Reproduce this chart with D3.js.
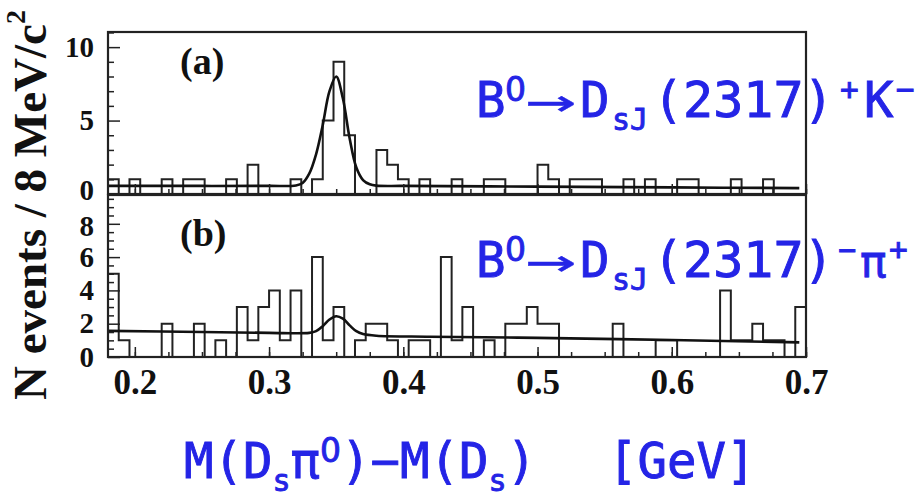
<!DOCTYPE html>
<html>
<head>
<meta charset="utf-8">
<script src="https://cdn.jsdelivr.net/npm/d3@7"></script>
<style>
  html, body { margin: 0; padding: 0; background: #fff; }
  svg { display: block; }
</style>
</head>
<body>
<svg id="chart" width="922" height="497"></svg>
<script>
// ---------------- data ----------------
const xDomain = [0.18, 0.70];
const binWidth = 0.008; // 8 MeV bins
const countsA = [1,0,1,0,0,1,0,1,1,0, 0,1,0,2,0,0,0,1,0,1, 5,9,4,0,0,3,2,1,0,1,
                 0,0,1,0,0,1,1,0,0,0, 2,1,0,1,1,1,0,0,1,0, 1,0,0,1,1,0,0,0,1,0, 0,1,0,0,0];
const countsB = [5,1,0,0,0,2,0,0,2,0, 1,0,3,1,3,4,1,4,0,6, 1,3,0,1,2,2,1,0,1,1,
                 0,6,1,3,0,1,0,2,2,3, 2,2,0,0,0,0,0,2,0,0, 0,1,1,0,0,0,0,4,1,1, 2,1,1,0,3];
// fit curves
const fitAx = [0.18, 0.25, 0.30, 0.32, 0.325, 0.33, 0.335, 0.34, 0.345, 0.35, 0.355, 0.36, 0.365, 0.37, 0.375, 0.38, 0.40, 0.50, 0.60, 0.695];
const fitAy = [0.55, 0.55, 0.55, 0.58, 0.75, 1.4, 2.7, 4.7, 7.0, 8.0, 6.5, 3.8, 1.8, 0.95, 0.66, 0.57, 0.55, 0.50, 0.45, 0.40];
const fitBx = [0.18, 0.25, 0.30, 0.33, 0.335, 0.34, 0.345, 0.35, 0.355, 0.36, 0.365, 0.37, 0.38, 0.42, 0.50, 0.60, 0.695];
const fitBy = [1.57, 1.50, 1.45, 1.45, 1.55, 1.85, 2.25, 2.45, 2.30, 1.90, 1.55, 1.38, 1.28, 1.22, 1.15, 1.02, 0.88];
const xTicksMajor = [0.2, 0.3, 0.4, 0.5, 0.6, 0.7];
const yTicksA = [0, 5, 10];
const yTicksB = [0, 2, 4, 6, 8];
const yDomainA = [0, 11.03];
const yDomainB = [0, 9.73];

// ---------------- layout ----------------
const svg = d3.select("#chart");
const L = 108, R = 806;
const panelA = {top: 32, bottom: 194};
const panelB = {top: 195, bottom: 357};
const ink = "#222";
const blue = "#2424e6";
const serif = "'Liberation Serif', 'Times New Roman', serif";
const mono = "'DejaVu Sans Mono', monospace";
const sans = "'DejaVu Sans', sans-serif";

const x = d3.scaleLinear().domain(xDomain).range([L, R]);
const yA = d3.scaleLinear().domain(yDomainA).range([panelA.bottom, panelA.top]);
const yB = d3.scaleLinear().domain(yDomainB).range([panelB.bottom, panelB.top]);

const xMinor = d3.range(0.2, 0.7001, 0.025).map(v => +v.toFixed(3));

function stepPoints(counts) {
  const pts = [[xDomain[0], 0]];
  counts.forEach((c, i) => {
    const x0 = xDomain[0] + i * binWidth, x1 = x0 + binWidth;
    pts.push([x0, c]);
    pts.push([x1, c]);
  });
  pts.push([xDomain[0] + counts.length * binWidth, 0]);
  return pts;
}

function drawPanel(panel, y, counts, fx, fy, yTicks, yMinorStep, showXLabels, tag, tagBaseline, labelShift) {
  const g = svg.append("g");
  const line = d3.line().x(d => x(d[0])).y(d => y(d[1]));
  g.append("path").attr("d", line(stepPoints(counts)))
    .attr("fill", "none").attr("stroke", ink).attr("stroke-width", 2);
  const fitLine = d3.line().x(d => x(d[0])).y(d => y(d[1])).curve(d3.curveCatmullRom.alpha(0.5));
  g.append("path").attr("d", fitLine(fx.map((v, i) => [v, fy[i]])))
    .attr("fill", "none").attr("stroke", "#111").attr("stroke-width", 2.6);

  g.append("rect").attr("x", L).attr("y", panel.top).attr("width", R - L).attr("height", panel.bottom - panel.top)
    .attr("fill", "none").attr("stroke", ink).attr("stroke-width", 2.2);

  const ax = d3.axisBottom(x).tickValues(xTicksMajor).tickSize(-10).tickPadding(12)
    .tickFormat(showXLabels ? d3.format(".1f") : () => "");
  const gx = g.append("g").attr("transform", `translate(0,${panel.bottom})`).call(ax);
  const axm = d3.axisBottom(x).tickValues(xMinor).tickSize(-5).tickFormat(() => "");
  const gxm = g.append("g").attr("transform", `translate(0,${panel.bottom})`).call(axm);
  [gx, gxm].forEach(s => { s.select(".domain").remove(); s.selectAll("line").attr("stroke", ink).attr("stroke-width", 1.5); });
  gx.selectAll("text").attr("font-family", serif).attr("font-weight", "bold").attr("font-size", 35).attr("fill", "#111");

  const ay = d3.axisLeft(y).tickValues(yTicks).tickSize(-12).tickPadding(14).tickFormat(d3.format("d"));
  const gy = g.append("g").attr("transform", `translate(${L},0)`).call(ay);
  const minorVals = d3.range(0, y.domain()[1], yMinorStep).filter(v => !yTicks.includes(v));
  const aym = d3.axisLeft(y).tickValues(minorVals).tickSize(-6).tickFormat(() => "");
  const gym = g.append("g").attr("transform", `translate(${L},0)`).call(aym);
  [gy, gym].forEach(s => { s.select(".domain").remove(); s.selectAll("line").attr("stroke", ink).attr("stroke-width", 1.5); });
  gy.selectAll("text").attr("font-family", serif).attr("font-weight", "bold").attr("font-size", 29).attr("fill", "#111")
    .attr("y", d => labelShift(d));

  g.append("text").attr("x", 180).attr("y", tagBaseline).text(tag)
    .attr("font-family", serif).attr("font-weight", "bold").attr("font-size", 38).attr("fill", "#111");
}

// small shifts keep the labels at the shared panel boundary ("0" above, "8" below) apart
drawPanel(panelA, yA, countsA, fitAx, fitAy, yTicksA, 1, false, "(a)", 74, d => d === 0 ? -4 : 0);
drawPanel(panelB, yB, countsB, fitBx, fitBy, yTicksB, 0.5, true, "(b)", 246, d => d === 8 ? 2 : 0);

// y-axis title
svg.append("text")
  .attr("transform", "translate(46,205) rotate(-90)")
  .attr("text-anchor", "middle")
  .attr("font-family", serif).attr("font-weight", "bold").attr("font-size", 47).attr("fill", "#111")
  .call(t => {
    t.append("tspan").text("N events / 8 MeV/c");
    t.append("tspan").attr("font-size", 28).attr("dy", -21).text("2");
  });

// decay annotations
function decay(baseline, tail) {
  const g = svg.append("g").attr("fill", blue).attr("stroke", blue).attr("stroke-width", 0.9)
    .attr("font-family", mono);
  const piece = (txt, xp, size, dy, fam) => g.append("text").attr("x", xp).attr("y", baseline + dy)
    .attr("font-size", size).attr("font-family", fam || mono).text(txt);
  piece("B", 476, 49, 0);
  piece("0", 505, 33, -16, sans);
  g.append("text").attr("transform", `translate(526,${baseline}) scale(1.75,1)`).attr("font-size", 48)
    .attr("stroke-width", 0.3).text("→");
  piece("D", 580, 49, 0);
  piece("sJ", 612, 30, 13);
  piece("(2317)", 653, 50, 0);
  tail(g, piece);
}
decay(117, (g, piece) => {
  piece("+", 840, 31, -17);
  piece("K", 864, 49, 0);
  piece("−", 896, 31, -17);
});
decay(277, (g, piece) => {
  piece("−", 838, 30, -17);
  piece("π", 860, 44, 0);
  piece("+", 889, 31, -17);
});

// x-axis title
(function () {
  const base = 478;
  const g = svg.append("g").attr("fill", blue).attr("stroke", blue).attr("stroke-width", 0.9)
    .attr("font-family", mono);
  const t = g.append("text").attr("x", 184).attr("y", base).attr("font-size", 49);
  t.append("tspan").text("M(D");
  t.append("tspan").attr("font-size", 30).attr("dy", 13).text("s");
  t.append("tspan").attr("dy", -13).text("π");
  t.append("tspan").attr("font-size", 33).attr("dy", -16).attr("font-family", sans).text("0");
  t.append("tspan").attr("dy", 16).text(")−M(D");
  t.append("tspan").attr("font-size", 30).attr("dy", 13).text("s");
  t.append("tspan").attr("dy", -13).text(")");
  g.append("text").attr("x", 608).attr("y", base).attr("font-size", 49).text("[GeV]");
})();
</script>
</body>
</html>
